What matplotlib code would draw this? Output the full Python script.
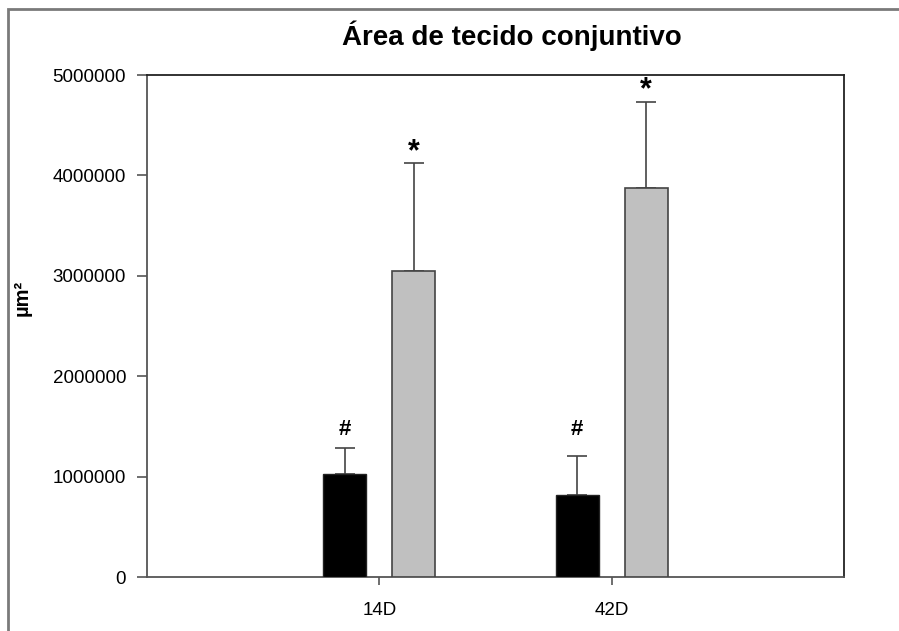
import numpy as np
import matplotlib.pyplot as plt
from matplotlib.patches import Rectangle

plt.rcParams['font.family'] = ['Liberation Sans', 'DejaVu Sans']

# dades
grups = ['14D', '42D']
mitjana_neg = [1025000, 820000]      # barres negres
error_neg = [255000, 390000]
mitjana_gris = [3050000, 3870000]    # barres grises
error_gris = [1070000, 860000]
simbol_neg = ['#', '#']
simbol_gris = ['*', '*']
alt_simbol_neg = [1470000, 1470000]
alt_simbol_gris = [4230000, 4850000]
yticks = [0, 1000000, 2000000, 3000000, 4000000, 5000000]

W, H = 899, 631
fig = plt.figure(figsize=(W / 100, H / 100), dpi=100)

# marc de la figura
fig.patches.append(Rectangle((8 / W, -0.1), 1.2, (H - 9) / H + 0.1,
                             transform=fig.transFigure, fill=False,
                             edgecolor='#7a7a7a', linewidth=2))

ax = fig.add_axes([147 / W, (H - 577) / H, 697 / W, 502 / H])

x = np.arange(1, len(grups) + 1)
amplada = 0.185
desp = 0.149

ax.bar(x - desp, mitjana_neg, amplada, color='black', edgecolor='#222222', linewidth=1, zorder=3)
ax.bar(x + desp, mitjana_gris, amplada, color='#c0c0c0', edgecolor='#444444', linewidth=1.2, zorder=3)

err_kw = dict(fmt='none', ecolor='#444444', elinewidth=1.2, capsize=7, capthick=1.2, zorder=2)
ax.errorbar(x - desp, mitjana_neg, yerr=[np.zeros(len(x)), error_neg], **err_kw)
ax.errorbar(x + desp, mitjana_gris, yerr=[np.zeros(len(x)), error_gris], **err_kw)

for xi, s, yi in zip(x - desp, simbol_neg, alt_simbol_neg):
    ax.text(xi, yi, s, ha='center', va='center', fontsize=16, fontweight='bold')
for xi, s, yi in zip(x + desp, simbol_gris, alt_simbol_gris):
    ax.text(xi, yi, s, ha='center', va='center', fontsize=22, fontweight='bold')

ax.set_xlim(0, 3)
ax.set_ylim(0, 5000000)
ax.set_xticks(x)
ax.set_xticklabels(grups)
ax.set_yticks(yticks)
ax.set_yticklabels([str(v) for v in yticks])
ax.tick_params(axis='y', direction='out', length=7, width=1.2, color='#555555', pad=8, labelsize=13.5)
ax.tick_params(axis='x', direction='out', length=6, width=1.2, color='#555555', pad=12, labelsize=13.5)

for s in ['left', 'bottom']:
    ax.spines[s].set_color('#555555')
    ax.spines[s].set_linewidth(1.3)
for s in ['top', 'right']:
    ax.spines[s].set_color('#222222')
    ax.spines[s].set_linewidth(1.3)

ax.set_ylabel('µm²', fontsize=14.5, fontweight='bold')
ax.yaxis.set_label_coords(-0.166, 0.555)

fig.text(512 / W, 1 - 36 / H, 'Área de tecido conjuntivo', ha='center', va='center',
         fontsize=20, fontweight='bold')

fig.savefig('out.png', dpi=100)
